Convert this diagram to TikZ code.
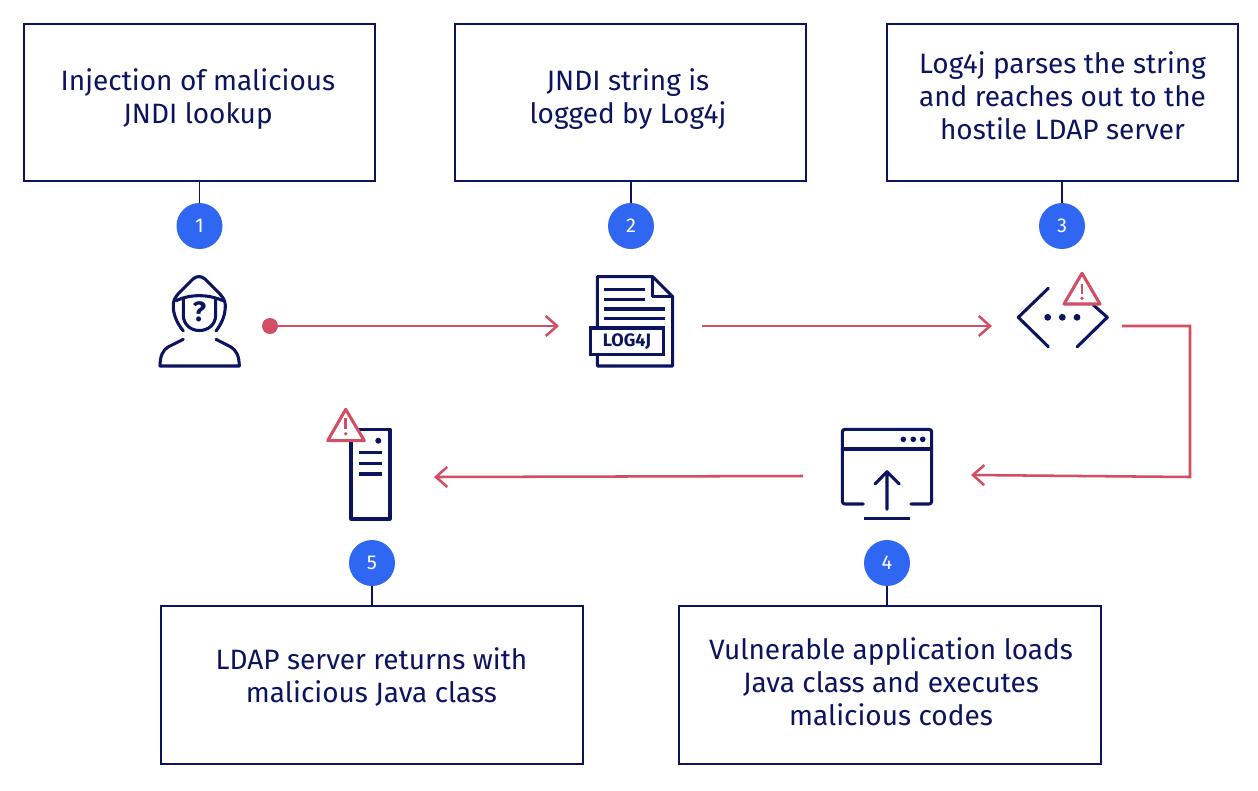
\documentclass[tikz,border=0pt]{standalone}
\usepackage{fontspec}
\setmainfont{Fira Sans}
\usetikzlibrary{arrows.meta}
\definecolor{navy}{HTML}{0C1460}
\definecolor{bluec}{HTML}{2F66F2}
\definecolor{redc}{HTML}{D14E64}
\tikzset{
 x=0.75pt,y=-0.75pt,
 txtbox/.style={draw=navy,line width=1.4pt,minimum width=#1*0.75pt,minimum height=118pt,inner sep=0pt},
 txtlabel/.style={align=center,text=navy,inner sep=0pt,font=\fontsize{21}{24.75}\selectfont},
 badge/.style={circle,fill=bluec,text=white,minimum size=34.5pt,inner sep=0pt,font=\fontsize{15}{18}\selectfont},
 stem/.style={navy,line width=1.3pt},
 flow/.style={redc,line width=1.9pt,-{Straight Barb[length=8.5pt,width=15pt,line width=1.9pt]}},
 icon/.style={navy,line width=2.3pt,line join=round,line cap=round},
 warn/.style={redc,line width=2.3pt,line join=round,fill=white},
}
\begin{document}
\begin{tikzpicture}
\useasboundingbox (0,0) rectangle (1258,790);
\fill[white] (0,0) rectangle (1258,790);
% text boxes
\node[txtbox=351] (b1) at (199.5,102.5) {};
\node[txtbox=351] (b2) at (630.7,102.5) {};
\node[txtbox=351] (b3) at (1062.5,102.5) {};
\node[txtbox=422] (b5) at (372,685) {};
\node[txtbox=422] (b4) at (890,685) {};
\node[txtlabel] (t1) at (198,99) {Injection of malicious\\JNDI lookup};
\node[txtlabel] (t2) at (628,99) {JNDI string is\\logged by Log4j};
\node[txtlabel] (t3) at (1062.5,96) {Log4j parses the string\\and reaches out to the\\hostile LDAP server};
\node[txtlabel] (t5) at (371.5,677) {LDAP server returns with\\malicious Java class};
\node[txtlabel] (t4) at (891,682) {Vulnerable application loads\\Java class and executes\\malicious codes};
% badges
\node[badge] (n1) at (199.5,226) {1};
\node[badge] (n2) at (631,226) {2};
\node[badge] (n3) at (1062,226) {3};
\node[badge] (n5) at (372,563) {5};
\node[badge] (n4) at (887,563) {4};
\draw[stem] (n1) -- (n1 |- b1.south);
\draw[stem] (n2) -- (n2 |- b2.south);
\draw[stem] (n3) -- (n3 |- b3.south);
\draw[stem] (n5) -- (n5 |- b5.north);
\draw[stem] (n4) -- (n4 |- b4.north);
% hacker icon
\draw[icon] (183.3,331) .. controls (176,322) and (173,313) .. (173.3,305) .. controls (173.5,300) and (175,298) .. (178,294) -- (193,279) .. controls (197,275.7) and (201,275.7) .. (205,279) -- (220,294) .. controls (223,298) and (225,300) .. (225.3,305) .. controls (225.5,313) and (223,322) .. (216,331);
\draw[icon] (176,300.7) .. controls (190,294) and (208,294) .. (223,300.7);
\draw[icon] (183.3,298.5) -- (183.3,315) .. controls (183.5,325) and (191,330.5) .. (199.3,330.5) .. controls (208,330.5) and (215.5,325) .. (215.7,315) -- (215.7,298.5);
\draw[icon] (183.3,339.3) -- (168,347) .. controls (163,350) and (160,356) .. (160,366) -- (239.3,366) .. controls (239.3,356) and (236,350) .. (231,347) -- (216,339.3);
\node[text=navy,inner sep=0pt,font=\fontsize{21}{21}\selectfont\bfseries] (q) at (199.3,312) {?};
% log4j doc icon
\draw[icon] (597.3,326.7) -- (597.3,276.7) -- (652.7,276.7) -- (672.7,296.7) -- (672.7,366) -- (597.3,366) -- (597.3,356);
\draw[icon] (652.7,276.7) -- (652.7,296.7) -- (672.7,296.7);
\draw[icon,line cap=butt] (604.3,289.3) -- (645,289.3) (604.3,299.3) -- (645,299.3) (604.3,309) -- (665,309) (604.3,318.3) -- (665,318.3);
\node[draw=navy,line width=2.3pt,minimum width=55pt,minimum height=20pt,inner sep=0pt,text=navy,font=\fontsize{13.5}{13.5}\selectfont\bfseries] (lg) at (627,341.3) {LOG4J};
% code icon
\draw[icon] (1048.3,288.3) -- (1018.3,317.3) -- (1048.3,346.7);
\draw[icon] (1093.3,305) -- (1107.3,317.3) -- (1077.3,346.7);
\fill[navy] (1047.7,317.3) circle[radius=3.4] (1062.3,317.3) circle[radius=3.4] (1077,317.3) circle[radius=3.4];
\draw[warn] (1082,273.3) -- (1100,304) -- (1064,304) -- cycle;
\draw[redc,line width=2.2pt] (1082,284) -- (1082,294);
\fill[redc] (1082,298.3) circle[radius=1.9];
% server icon
\draw[icon] (351,429.3) rectangle (390,519);
\fill[navy] (378.3,440.7) circle[radius=3];
\draw[icon,line cap=butt] (359,452.7) -- (381.7,452.7) (359,463.3) -- (381.7,463.3) (359,474) -- (381.7,474);
\draw[warn] (345.7,409.3) -- (364.3,440.7) -- (327.7,440.7) -- cycle;
\draw[redc,line width=2.2pt] (345.7,418.3) -- (345.7,429);
\fill[redc] (345.7,433.7) circle[radius=1.9];
% app icon
\draw[icon,rounded corners=2pt] (863.3,504) -- (842.3,504) -- (842.3,429.3) -- (931.7,429.3) -- (931.7,504) -- (911,504);
\draw[icon] (842.3,449) -- (931.7,449);
\fill[navy] (903.3,439.3) circle[radius=2.8] (913.3,439.3) circle[radius=2.8] (922.7,439.3) circle[radius=2.8];
\draw[icon] (875,484) -- (887,471.7) -- (899.3,484) (887,471.7) -- (887,509.3);
\draw[icon,line cap=butt] (864.3,518.7) -- (910,518.7);
% flow connectors
\coordinate (s1) at (270,326);
\coordinate (e1) at (559,326);
\coordinate (s2) at (702,326);
\coordinate (e2) at (992,326);
\coordinate (s3) at (1122,326);
\coordinate (k1) at (1190,326);
\coordinate (k2) at (1190,477);
\coordinate (e3) at (971,475);
\coordinate (s4) at (803,476);
\coordinate (e4) at (434,477);
\fill[redc] (s1) circle[radius=8];
\draw[flow] (s1) -- (e1);
\draw[flow] (s2) -- (e2);
\draw[flow] (s3) -- (k1) -- (k2) -- (e3);
\draw[flow] (s4) -- (e4);
\end{tikzpicture}
\end{document}
